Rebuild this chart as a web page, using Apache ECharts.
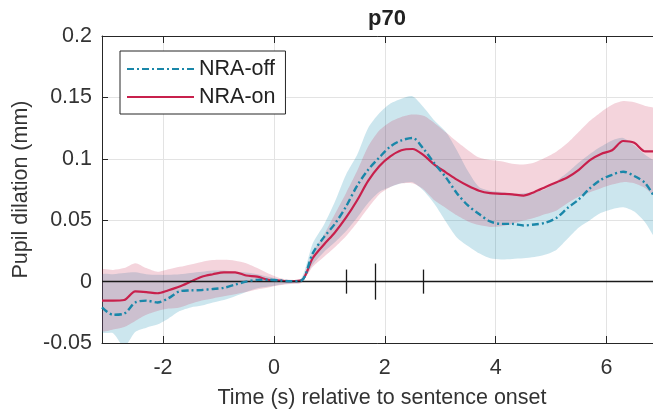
<!DOCTYPE html>
<html><head><meta charset="utf-8">
<script src="https://cdn.jsdelivr.net/npm/echarts@6/dist/echarts.min.js"></script>
<style>html,body{margin:0;padding:0;background:#fff}#c{width:653px;height:411px}</style>
</head><body><div id="c"></div>
<script>
const time = [-3.1,-2.9,-2.7,-2.5,-2.3,-2.1,-1.9,-1.7,-1.5,-1.3,-1.1,-0.9,-0.7,-0.5,-0.3,-0.1,0.1,0.3,0.5,0.7,0.9,1.1,1.3,1.5,1.7,1.9,2.1,2.3,2.5,2.7,2.9,3.1,3.3,3.5,3.7,3.9,4.1,4.3,4.5,4.7,4.9,5.1,5.3,5.5,5.7,5.9,6.1,6.3,6.5,6.7,6.9];
const onMean = [-0.0155,-0.0155,-0.015,-0.008,-0.0085,-0.0095,-0.007,-0.004,0.0,0.004,0.006,0.0075,0.0075,0.005,0.004,0.0015,0.0008,0.0003,0.001,0.019,0.030,0.040,0.052,0.066,0.082,0.094,0.102,0.107,0.108,0.103,0.095,0.089,0.083,0.078,0.074,0.072,0.0715,0.071,0.070,0.073,0.077,0.081,0.085,0.091,0.099,0.104,0.107,0.1145,0.113,0.106,0.106];
const offMean = [-0.021,-0.027,-0.026,-0.017,-0.0155,-0.017,-0.0135,-0.0079,-0.0072,-0.0068,-0.006,-0.005,-0.0025,0.0,0.0014,0.0015,0.001,0.0003,0.001,0.023,0.036,0.047,0.061,0.078,0.091,0.101,0.110,0.115,0.117,0.108,0.096,0.085,0.072,0.062,0.055,0.049,0.047,0.047,0.0457,0.0465,0.048,0.052,0.060,0.067,0.076,0.083,0.087,0.0895,0.086,0.080,0.066];
const onUpper = [0.0095,0.0095,0.011,0.015,0.011,0.008,0.010,0.012,0.014,0.016,0.0175,0.0177,0.017,0.015,0.011,0.0065,0.003,0.0015,0.002,0.024,0.038,0.055,0.072,0.090,0.110,0.123,0.130,0.134,0.136,0.135,0.129,0.1216,0.114,0.107,0.101,0.099,0.098,0.096,0.0953,0.097,0.101,0.106,0.113,0.122,0.131,0.138,0.144,0.147,0.146,0.143,0.140];
const onLower = [-0.040,-0.039,-0.037,-0.032,-0.027,-0.024,-0.022,-0.021,-0.018,-0.0153,-0.0137,-0.012,-0.0103,-0.0085,-0.0065,-0.0048,-0.003,-0.002,-0.001,0.012,0.020,0.028,0.037,0.048,0.060,0.071,0.077,0.080,0.080,0.075,0.066,0.060,0.054,0.049,0.046,0.0445,0.045,0.047,0.0497,0.052,0.055,0.058,0.064,0.069,0.0727,0.076,0.079,0.081,0.080,0.076,0.069];
const offUpper = [0.0055,0.006,0.007,0.0076,0.006,0.0055,0.0055,0.006,0.007,0.008,0.009,0.009,0.008,0.0075,0.006,0.004,0.002,0.001,0.003,0.031,0.046,0.065,0.087,0.103,0.125,0.137,0.145,0.149,0.151,0.142,0.131,0.122,0.107,0.090,0.077,0.074,0.073,0.0715,0.072,0.073,0.0755,0.082,0.089,0.097,0.104,0.110,0.115,0.117,0.111,0.103,0.096];
const offLower = [-0.041,-0.042,-0.053,-0.041,-0.0375,-0.035,-0.030,-0.024,-0.021,-0.0195,-0.017,-0.015,-0.012,-0.0085,-0.0055,-0.004,-0.0025,-0.0015,-0.0005,0.014,0.024,0.032,0.041,0.052,0.064,0.073,0.077,0.080,0.081,0.074,0.063,0.049,0.036,0.029,0.023,0.019,0.018,0.0185,0.019,0.020,0.022,0.026,0.035,0.044,0.050,0.056,0.059,0.0605,0.057,0.048,0.035];
const markTimes = [1.3, 1.82, 2.7];
const markSpan = [0.0098, 0.0147, 0.0098];
const xTicks = [-2, 0, 2, 4, 6];
const xTickLabels = ['-2', '0', '2', '4', '6'];
const yTicks = [-0.05, 0, 0.05, 0.1, 0.15, 0.2];
const yTickLabels = ['-0.05', '0', '0.05', '0.1', '0.15', '0.2'];
const seriesNames = ['NRA-off', 'NRA-on'];
const titleText = 'p70';
const xName = 'Time (s) relative to sentence onset';
const yName = 'Pupil dilation (mm)';

const pairs = ys => time.map((t, i) => [t, ys[i]]);
const FONT = 'Liberation Sans, Arial, sans-serif';
const BLUE = '#1a87a9';
const RED = '#c8204c';
const AX = '#262626';
const lbl = (vals, labels) => v => { const i = vals.findIndex(x => Math.abs(x - v) < 1e-9); return i >= 0 ? labels[i] : ''; };

function bandSeries(name, lo, hi, fill, z) {
  return {
    type: 'custom', name: name, silent: true, z: z,
    data: time.map((t, i) => [t, lo[i], hi[i]]),
    encode: {x: 0, y: [1, 2]},
    renderItem: function (params, api) {
      if (params.dataIndex !== 0) return null;
      const up = time.map((t, i) => api.coord([t, hi[i]]));
      const dn = time.map((t, i) => api.coord([t, lo[i]])).reverse();
      const cs = params.coordSys;
      return {
        type: 'polygon',
        shape: {points: up.concat(dn), smooth: 0.25},
        style: {fill: fill, stroke: null},
        clipPath: {type: 'rect', shape: {x: cs.x, y: cs.y, width: cs.width, height: cs.height}}
      };
    }
  };
}

const chart = echarts.init(document.getElementById('c'), null, {renderer: 'canvas'});
chart.setOption({
  animation: false,
  textStyle: {fontFamily: FONT},
  title: {text: titleText, left: 382, textAlign: 'center', top: 3,
    textStyle: {fontFamily: FONT, fontSize: 22, fontWeight: 'bold', color: '#222'}},
  legend: {
    data: seriesNames.map(n => ({name: n, itemStyle: {opacity: 0}})),
    left: 120, top: 51, orient: 'vertical',
    itemWidth: 67, itemHeight: 14, itemGap: 6,
    padding: [7, 10, 6, 6],
    borderColor: AX, borderWidth: 1, backgroundColor: '#fff',
    textStyle: {fontFamily: FONT, fontSize: 21.5, color: '#222', lineHeight: 22}
  },
  grid: {left: 102, top: 36, right: -9, bottom: 68, outerBoundsMode: 'none', containLabel: false},
  xAxis: [{
    type: 'value', min: -3.1, max: 7.0,
    name: xName, nameLocation: 'middle', nameGap: 44,
    nameTextStyle: {fontFamily: FONT, fontSize: 21.5, color: '#333'},
    axisLine: {show: true, onZero: false, lineStyle: {color: AX, width: 1}},
    axisTick: {show: true, inside: true, length: 7, customValues: xTicks, lineStyle: {color: AX}},
    axisLabel: {customValues: xTicks, formatter: lbl(xTicks, xTickLabels), margin: 14,
      fontFamily: FONT, fontSize: 21.5, color: '#333'},
    splitLine: {show: true, lineStyle: {color: '#e3e3e3', width: 1}}
  }, {
    type: 'value', min: -3.1, max: 7.0, position: 'top',
    axisLine: {show: true, onZero: false, lineStyle: {color: AX, width: 1}},
    axisTick: {show: true, inside: true, length: 7, customValues: xTicks, lineStyle: {color: AX}},
    axisLabel: {show: false},
    splitLine: {show: false}
  }],
  yAxis: {
    type: 'value', min: -0.05, max: 0.2, interval: 0.05,
    name: yName, nameLocation: 'middle', nameGap: 68,
    nameTextStyle: {fontFamily: FONT, fontSize: 21.5, color: '#333'},
    axisLine: {show: true, onZero: false, lineStyle: {color: AX, width: 1}},
    axisTick: {show: true, inside: true, length: 6, lineStyle: {color: AX}},
    axisLabel: {formatter: lbl(yTicks, yTickLabels), margin: 10,
      fontFamily: FONT, fontSize: 21.5, color: '#333'},
    splitLine: {show: true, lineStyle: {color: '#e3e3e3', width: 1}}
  },
  series: [
    bandSeries('offBand', offLower, offUpper, 'rgba(0,130,170,0.2)', 1),
    bandSeries('onBand', onLower, onUpper, 'rgba(198,38,79,0.2)', 2),
    {type: 'line', name: seriesNames[1], data: pairs(onMean), symbol: 'none', smooth: 0.3, z: 4,
      itemStyle: {color: RED}, lineStyle: {color: RED, width: 2.2}},
    {type: 'line', name: seriesNames[0], data: pairs(offMean), symbol: 'none', smooth: 0.3, z: 5,
      itemStyle: {color: BLUE}, lineStyle: {color: BLUE, width: 2.4, type: [7, 3, 2, 3]},
      markLine: {
        silent: true, symbol: 'none', animation: false,
        label: {show: false},
        lineStyle: {color: '#1a1a1a', width: 1.3, type: 'solid'},
        data: [{yAxis: 0}].concat(markTimes.map((t, i) => [
          {coord: [t, -markSpan[i]]}, {coord: [t, markSpan[i]]}
        ]))
      }}
  ]
});
</script></body></html>
